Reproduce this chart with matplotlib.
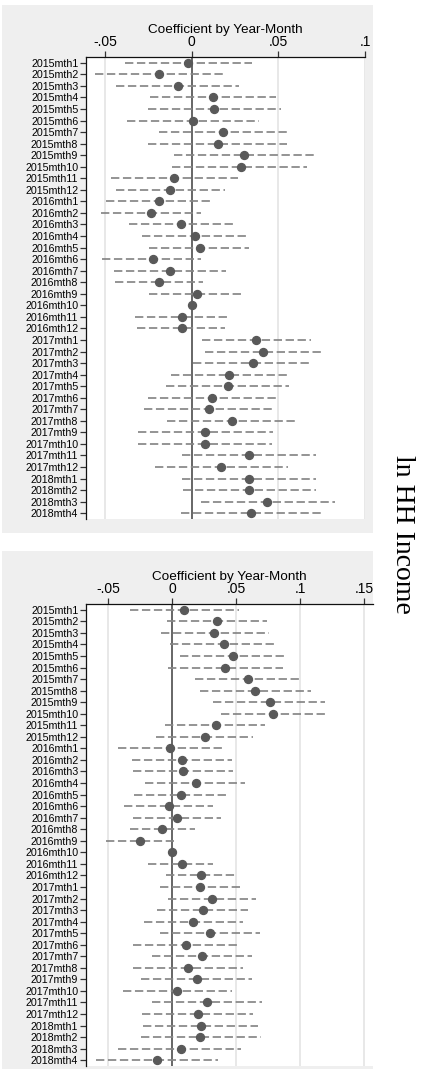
import numpy as np
import matplotlib
matplotlib.use('Agg')
import matplotlib.pyplot as plt
from matplotlib.patches import Rectangle

# row labels, top to bottom
months = ["%dmth%d" % (y, m) for y in (2015, 2016, 2017) for m in range(1, 13)]
months += ["2018mth%d" % m for m in range(1, 5)]

# panel 1 : point estimates and 95% CI (2016mth10 = reference month)
coef1 = [-0.002, -0.0187, -0.0079, 0.0125, 0.013, 0.001, 0.0182, 0.015, 0.0304, 0.0284,
         -0.0102, -0.0123, -0.0189, -0.0235, -0.006, 0.0019, 0.005, -0.0221, -0.0123, -0.0187,
         0.0029, 0.0, -0.0054, -0.0056, 0.0371, 0.0413, 0.0352, 0.0217, 0.0208, 0.0119,
         0.010, 0.0231, 0.0078, 0.0075, 0.0329, 0.0169, 0.0329, 0.0332, 0.0436, 0.0344]
lo1 = [-0.0385, -0.0558, -0.0437, -0.024, -0.025, -0.0375, -0.0187, -0.025, -0.0102, -0.0112,
       -0.0467, -0.0439, -0.0494, -0.0525, -0.036, -0.0285, -0.0246, -0.0519, -0.0447, -0.0444,
       -0.0246, np.nan, -0.0327, -0.0316, 0.0061, 0.0077, 0.0006, -0.0119, -0.0148, -0.0254,
       -0.0273, -0.0144, -0.031, -0.0308, -0.0054, -0.0212, -0.0054, -0.0048, 0.0052, -0.0062]
hi1 = [0.0346, 0.0186, 0.0275, 0.0486, 0.0513, 0.039, 0.0552, 0.0548, 0.0706, 0.0664,
       0.0269, 0.0194, 0.0115, 0.0052, 0.024, 0.0323, 0.0329, 0.0054, 0.0198, 0.0063,
       0.0302, np.nan, 0.0221, 0.0194, 0.0688, 0.0746, 0.0696, 0.0548, 0.0561, 0.0492,
       0.0471, 0.0606, 0.0467, 0.0462, 0.0715, 0.0554, 0.0715, 0.0715, 0.0827, 0.0746]

# panel 2
coef2 = [0.0094, 0.0347, 0.0328, 0.0401, 0.0472, 0.0412, 0.0594, 0.0648, 0.0763, 0.0789,
         0.0341, 0.0255, -0.0016, 0.0076, 0.0084, 0.0188, 0.0068, -0.0023, 0.0034, -0.008,
         -0.0252, 0.0, 0.0073, 0.0224, 0.0216, 0.0313, 0.0237, 0.0164, 0.0294, 0.0107,
         0.0234, 0.0125, 0.019, 0.0037, 0.0273, 0.0198, 0.0224, 0.0219, 0.007, -0.0122]
lo2 = [-0.033, -0.0044, -0.0088, -0.0018, 0.006, -0.0036, 0.0177, 0.0216, 0.032, 0.038,
       -0.0057, -0.0127, -0.0422, -0.0312, -0.031, -0.0213, -0.0299, -0.0377, -0.0305, -0.033,
       -0.052, np.nan, -0.0188, -0.0049, -0.0099, -0.0036, -0.0122, -0.0221, -0.0096, -0.0305,
       -0.0161, -0.0305, -0.0247, -0.0388, -0.0156, -0.0234, -0.0227, -0.0247, -0.0422, -0.0598]
hi2 = [0.0523, 0.0737, 0.0755, 0.0815, 0.0893, 0.0862, 0.1015, 0.1083, 0.1193, 0.12,
       0.0724, 0.0633, 0.0398, 0.0466, 0.0472, 0.0568, 0.0438, 0.0315, 0.0378, 0.0177,
       0.0013, np.nan, 0.032, 0.0508, 0.054, 0.0654, 0.0594, 0.055, 0.0685, 0.0516,
       0.062, 0.0555, 0.062, 0.0464, 0.0703, 0.0633, 0.0672, 0.069, 0.0537, 0.0355]

xticks1 = [-0.05, 0, 0.05, 0.1]
xticks2 = [-0.05, 0, 0.05, 0.1, 0.15]
xlabs1 = ["-.05", "0", ".05", ".1"]
xlabs2 = ["-.05", "0", ".05", ".1", ".15"]

plt.rcParams['font.family'] = ['Liberation Sans', 'DejaVu Sans']
plt.rcParams['lines.scale_dashes'] = False

W, H = 423., 1069.
fig = plt.figure(figsize=(W / 100, H / 100), dpi=100, facecolor='w')

# grey graph regions (pixels: x0, top, x1, bottom)
for x0, t, x1, b in [(2, 5, 373, 533), (2, 551, 373, 1069)]:
    fig.patches.append(Rectangle((x0 / W, 1 - b / H), (x1 - x0) / W, (b - t) / H,
                                 transform=fig.transFigure, facecolor='#efefef',
                                 edgecolor='none', zorder=-5))


def panel(rect, coef, lo, hi, xlim, ticks, labs):
    ax = fig.add_axes(rect)
    ax.set_zorder(1)
    ax.set_facecolor('w')
    y = np.arange(1, len(months) + 1)
    for t in ticks:
        if t != 0:
            ax.axvline(t, color='#e6e6e6', lw=1.3, zorder=1)
    ax.axvline(0, color='#4d4d4d', lw=1.2, zorder=2)
    ax.hlines(y, lo, hi, color='#868686', lw=1.25, linestyles=[(0, (6.0, 2.6))], zorder=3)
    ax.plot(coef, y, 'o', color='#595959', ms=5.7, mec='#595959', zorder=4)
    ax.set_ylim(len(months) + 0.5, 0.5)
    ax.set_xlim(*xlim)
    ax.set_yticks(y)
    ax.set_yticklabels(months, fontsize=7.7)
    ax.set_xticks(ticks)
    ax.set_xticklabels(labs, fontsize=10)
    ax.xaxis.tick_top()
    ax.xaxis.set_label_position('top')
    ax.set_xlabel('Coefficient by Year-Month', fontsize=9.7, labelpad=1)
    ax.tick_params(axis='x', length=4, width=0.9, pad=2, color='#333333')
    ax.tick_params(axis='y', length=4, width=0.9, pad=1.5, color='#333333')
    for s in ('right', 'bottom'):
        ax.spines[s].set_visible(False)
    for s in ('top', 'left'):
        ax.spines[s].set_linewidth(0.9)
        ax.spines[s].set_color('#111111')
    return ax


panel([86 / W, 1 - 519 / H, 279 / W, 462 / H], coef1, lo1, hi1,
      (-0.061, 0.1), xticks1, xlabs1)
panel([86 / W, 1 - 1066 / H, 287 / W, 462 / H], coef2, lo2, hi2,
      (-0.0674, 0.1568), xticks2, xlabs2)

fig.text(402 / W, 0.5, 'ln HH Income', rotation=270, fontsize=20,
         family='Liberation Serif', ha='center', va='center')

plt.savefig('out.png', dpi=100)
